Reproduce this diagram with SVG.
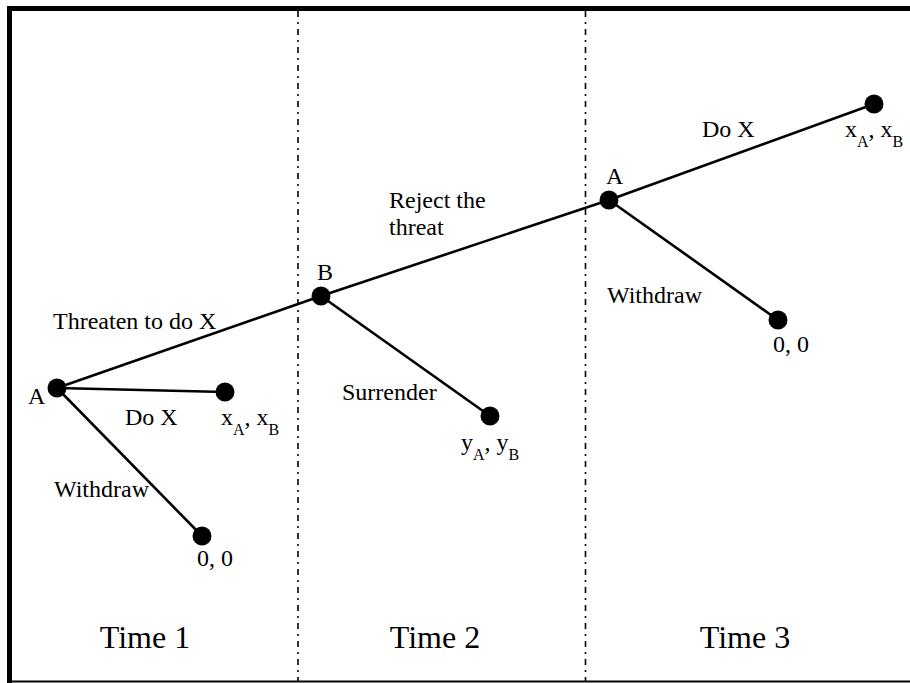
<svg xmlns="http://www.w3.org/2000/svg" width="910" height="683" viewBox="0 0 910 683">
<style>
text{font-family:"Liberation Serif","Times New Roman",serif;fill:#000}
.lb{font-size:24px}
.sub{font-size:16px}
.time{font-size:32px}
.edge{stroke:#000;stroke-width:2.6;fill:none}
.node{fill:#000}
.div{stroke:#000;stroke-width:1.6;stroke-dasharray:6,5,2,5}
</style>
<rect width="910" height="683" fill="#fff"/>
<g id="frame">
<line x1="7" y1="8.5" x2="910" y2="8.5" stroke="#000" stroke-width="5"/>
<line x1="9.5" y1="6" x2="9.5" y2="683" stroke="#000" stroke-width="5"/>
<line x1="7" y1="681.5" x2="910" y2="681.5" stroke="#000" stroke-width="2"/>
<line class="div" x1="298" y1="11" x2="298" y2="681"/>
<line class="div" x1="585.5" y1="11" x2="585.5" y2="681"/>
</g>
<g id="connectors">
<line class="edge" x1="57" y1="388" x2="321" y2="296"/>
<line class="edge" x1="57" y1="388" x2="225" y2="392"/>
<line class="edge" x1="57" y1="388" x2="202" y2="536"/>
<line class="edge" x1="321" y1="296" x2="609" y2="200"/>
<line class="edge" x1="321" y1="296" x2="490" y2="416"/>
<line class="edge" x1="609" y1="200" x2="874" y2="104"/>
<line class="edge" x1="609" y1="200" x2="778" y2="320"/>
<text class="lb" x="53" y="329">Threaten to do X</text>
<text class="lb" x="125" y="425">Do X</text>
<text class="lb" x="54" y="497">Withdraw</text>
<text class="lb" x="389" y="208">Reject the</text>
<text class="lb" x="389" y="235">threat</text>
<text class="lb" x="342" y="400">Surrender</text>
<text class="lb" x="702" y="137">Do X</text>
<text class="lb" x="607" y="303">Withdraw</text>
</g>
<g id="nodeA1">
<circle class="node" cx="57" cy="388" r="9.5"/>
<text class="lb" x="28" y="404">A</text>
</g>
<g id="nodeDoX1">
<circle class="node" cx="225" cy="392" r="9.5"/>
<text class="lb" x="221" y="425">x<tspan class="sub" dy="10">A</tspan><tspan dy="-10">, x</tspan><tspan class="sub" dy="10">B</tspan></text>
</g>
<g id="nodeWithdraw1">
<circle class="node" cx="202" cy="536" r="9.5"/>
<text class="lb" x="197" y="566">0, 0</text>
</g>
<g id="nodeB">
<circle class="node" cx="321" cy="296" r="9.5"/>
<text class="lb" x="317" y="280">B</text>
</g>
<g id="nodeSurrender">
<circle class="node" cx="490" cy="416" r="9.5"/>
<text class="lb" x="461" y="450">y<tspan class="sub" dy="10">A</tspan><tspan dy="-10">, y</tspan><tspan class="sub" dy="10">B</tspan></text>
</g>
<g id="nodeA3">
<circle class="node" cx="609" cy="200" r="9.5"/>
<text class="lb" x="606" y="184">A</text>
</g>
<g id="nodeDoX3">
<circle class="node" cx="874" cy="104" r="9.5"/>
<text class="lb" x="845" y="137">x<tspan class="sub" dy="10">A</tspan><tspan dy="-10">, x</tspan><tspan class="sub" dy="10">B</tspan></text>
</g>
<g id="nodeWithdraw3">
<circle class="node" cx="778" cy="320" r="9.5"/>
<text class="lb" x="773" y="352">0, 0</text>
</g>
<g id="times">
<text class="time" x="145" y="648" text-anchor="middle">Time 1</text>
<text class="time" x="435" y="648" text-anchor="middle">Time 2</text>
<text class="time" x="745" y="648" text-anchor="middle">Time 3</text>
</g>
</svg>
